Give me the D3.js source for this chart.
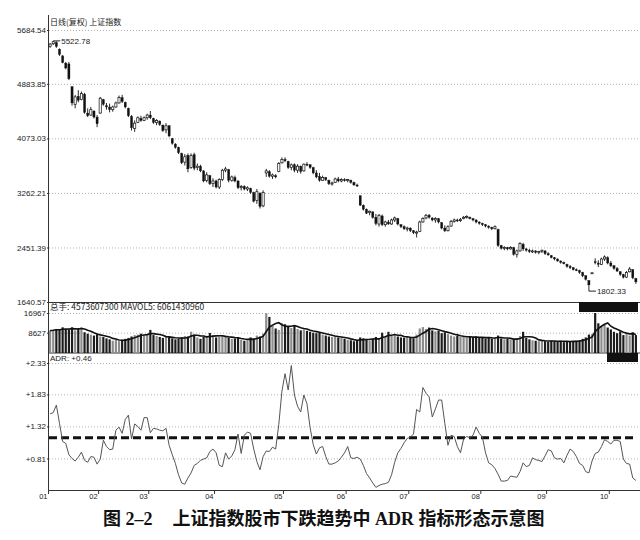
<!DOCTYPE html>
<html><head><meta charset="utf-8">
<script src="https://cdn.jsdelivr.net/npm/d3@7"></script>
<style>body{margin:0;background:#fff}svg{display:block}</style>
</head><body>
<svg id="c" width="640" height="540"></svg>
<script>
// ---------- data ----------
const monthLabels = ["01","02","03","04","05","06","07","08","09","10"];
const monthDays   = [16,16,21,22,20,20,23,21,20,9];
const priceTicks  = [5684.54, 4883.85, 4073.03, 3262.21, 2451.39, 1640.57];
const volTicks    = [16967, 8627];
const adrTicks    = [2.33, 1.83, 1.32, 0.81];
const adrSignal   = 1.14;
const titleText   = "日线(复权)  上证指数";
const volText     = "总手: 4573607300  MAVOL5: 6061430960";
const adrText     = "ADR: +0.46";
const highNote    = "5522.78";
const lowNote     = "1802.33";
const captionParts = ["图", " 2–2", "上证指数股市下跌趋势中", " ADR ", "指标形态示意图"];

const openP = [5440,5480,5500,5400,5300,5190,5180,4840,4580,4700,
4650,4730,4450,4420,4480,4390,4450,4650,4560,4540,
4500,4540,4600,4680,4610,4520,4400,4220,4310,4370,
4340,4380,4420,4370,4310,4330,4270,4200,4260,4070,
3990,3940,3850,3720,3820,3640,3830,3640,3660,3590,
3450,3520,3400,3440,3350,3460,3600,3610,3450,3490,
3440,3340,3360,3320,3330,3270,3150,3260,3070,3560,
3580,3510,3520,3580,3710,3760,3730,3640,3680,3600,
3660,3590,3690,3680,3640,3560,3510,3450,3490,3450,
3400,3420,3470,3440,3460,3450,3450,3420,3380,3220,
3080,3020,2970,2980,2900,2800,2920,2790,2830,2800,
2860,2880,2790,2760,2730,2740,2700,2670,2690,2830,
2890,2930,2890,2860,2880,2820,2740,2700,2770,2840,
2860,2850,2880,2900,2900,2880,2860,2830,2810,2790,
2770,2750,2730,2720,2480,2440,2450,2430,2450,2350,
2400,2500,2430,2410,2390,2400,2380,2390,2400,2360,
2330,2300,2280,2250,2230,2200,2170,2150,2120,2110,
2080,2030,1960,2075,2240,2220,2200,2280,2300,2220,
2180,2140,2090,2050,2010,2090,2120,1990];
const highP = [5490,5522.78,5515,5410,5310,5210,5210,4850,4720,4790,
4770,4750,4520,4540,4490,4420,4690,4660,4600,4590,
4560,4620,4710,4720,4620,4530,4420,4340,4400,4410,
4400,4440,4480,4380,4360,4340,4280,4300,4270,4080,
4000,3950,3860,3840,3850,3850,3860,3700,3680,3600,
3570,3530,3480,3460,3480,3620,3650,3620,3520,3520,
3450,3380,3375,3360,3340,3280,3320,3270,3300,3620,
3600,3550,3540,3720,3790,3790,3740,3700,3700,3690,
3670,3700,3720,3690,3650,3600,3560,3520,3500,3460,
3430,3490,3500,3480,3480,3470,3460,3430,3400,3225,
3090,3030,3000,2990,2950,2950,2940,2850,2860,2880,
2910,2890,2800,2780,2760,2750,2710,2700,2850,2900,
2950,2950,2900,2900,2890,2830,2780,2780,2860,2880,
2880,2890,2920,2930,2910,2890,2870,2840,2820,2800,
2780,2760,2780,2730,2490,2470,2460,2470,2460,2420,
2530,2520,2440,2430,2420,2410,2400,2420,2410,2380,
2340,2310,2290,2260,2240,2210,2190,2160,2140,2120,
2090,2040,1965,2078,2290,2260,2300,2333,2320,2250,
2190,2160,2100,2060,2100,2160,2130,2000];
const lowP = [5420,5460,5420,5300,5190,5100,4940,4560,4520,4610,
4640,4440,4390,4410,4370,4240,4440,4560,4500,4460,
4470,4530,4590,4600,4520,4390,4190,4170,4300,4320,
4330,4350,4360,4290,4270,4260,4170,4150,4090,3980,
3920,3840,3690,3670,3570,3620,3600,3600,3570,3420,
3420,3380,3350,3330,3320,3440,3570,3420,3430,3420,
3320,3300,3300,3290,3250,3120,3100,3030,3050,3500,
3490,3470,3480,3570,3700,3720,3620,3600,3570,3560,
3550,3580,3660,3620,3540,3480,3430,3440,3440,3380,
3370,3410,3420,3420,3430,3420,3400,3370,3350,3070,
3000,2950,2930,2880,2780,2760,2770,2760,2790,2790,
2830,2780,2740,2710,2690,2680,2650,2600,2680,2820,
2870,2880,2840,2820,2810,2720,2680,2690,2760,2820,
2830,2830,2870,2880,2870,2840,2810,2790,2770,2750,
2730,2710,2720,2460,2420,2410,2410,2420,2330,2300,
2390,2400,2390,2370,2370,2360,2350,2370,2340,2330,
2290,2260,2240,2210,2200,2150,2130,2110,2100,2060,
2010,1960,1802.33,2072,2200,2160,2190,2250,2200,2160,
2120,2090,2030,1990,2000,2080,1980,1910];
const closeP = [5475,5510,5440,5320,5200,5120,4960,4600,4690,4640,
4740,4460,4410,4500,4390,4290,4670,4580,4540,4500,
4540,4600,4680,4620,4540,4410,4230,4300,4380,4340,
4380,4420,4380,4310,4340,4280,4190,4260,4110,4000,
3940,3860,3710,3800,3620,3820,3630,3660,3590,3440,
3530,3400,3440,3350,3460,3600,3620,3450,3500,3440,
3340,3360,3320,3340,3270,3140,3280,3060,3270,3590,
3510,3530,3500,3700,3760,3740,3640,3680,3600,3660,
3580,3690,3680,3640,3560,3500,3450,3490,3460,3400,
3410,3470,3440,3460,3450,3460,3420,3380,3370,3080,
3020,2960,2990,2900,2810,2930,2790,2830,2800,2860,
2890,2800,2760,2730,2740,2700,2670,2680,2830,2880,
2930,2900,2860,2880,2830,2740,2700,2760,2840,2860,
2850,2870,2900,2910,2880,2860,2830,2810,2790,2770,
2750,2730,2760,2480,2440,2450,2430,2450,2350,2400,
2510,2430,2410,2390,2400,2380,2390,2410,2360,2340,
2300,2280,2250,2230,2210,2170,2150,2120,2110,2080,
2030,1980,1895,2075,2230,2200,2280,2310,2220,2180,
2140,2100,2050,2010,2080,2130,2000,1940];
const volume = [9500,9800,10200,10000,10900,9800,10000,10900,9600,10600,
10900,8800,8200,7800,7400,8000,7000,6800,6200,5800,
5200,5500,5000,5600,6000,6400,7000,7600,7800,8200,
7400,8000,9800,7600,7200,6800,6400,6800,7000,6200,
5800,6000,6600,7200,7000,9000,7800,6600,6000,6800,
7000,8500,7400,6600,7000,7200,7000,6400,6000,6200,
6600,5600,5200,5400,6600,6200,7400,7000,8200,16900,
15300,11800,10400,9800,12600,12200,11400,10600,11600,10200,
9600,10000,9400,9000,8600,8400,8800,7800,7400,7000,
6800,7200,6600,6400,6000,5600,5400,5000,5200,6600,
6200,5600,5400,6000,6800,6200,8600,6800,9000,7200,
7600,7000,6600,6400,6800,6600,6200,7800,10400,11000,
10200,10800,9600,9200,9400,8400,8800,8000,7400,7000,
7200,6800,7000,6600,6800,6400,7000,6600,6400,6200,
6800,6000,6400,7400,6200,5800,6000,5600,5800,6200,
7200,9000,6400,5800,5400,5200,5000,5400,5000,4800,
5200,5000,4800,5200,4600,5000,4800,5000,5200,5400,
6000,6600,7800,8000,16967,12600,11400,12000,10800,10000,
9000,8400,9200,7600,8000,7400,8800,7600];
const adr = [1.52,1.54,1.66,1.37,1.08,1.05,0.87,0.81,0.77,0.83,
0.91,0.78,0.75,0.84,0.83,0.72,0.80,1.10,1.00,0.95,
0.96,1.26,1.31,1.21,1.43,1.50,1.12,1.36,1.32,1.26,
1.46,1.46,1.22,1.29,1.28,1.26,1.25,1.29,1.02,0.87,
0.73,0.55,0.42,0.40,0.50,0.58,0.70,0.73,0.78,0.80,
0.82,0.92,0.96,0.90,0.70,0.68,0.90,0.80,0.85,0.95,
1.20,0.89,1.18,1.23,1.21,0.96,0.76,0.63,0.84,0.93,
0.92,0.99,0.96,1.35,1.88,2.16,1.90,2.29,1.82,1.64,
1.55,1.82,1.68,1.30,1.03,0.88,0.98,1.00,0.84,0.72,
0.72,0.74,0.77,0.83,0.90,1.00,0.82,0.81,0.83,0.80,
0.70,0.57,0.50,0.42,0.35,0.38,0.40,0.41,0.43,0.55,
0.75,0.90,0.97,1.06,1.13,1.15,1.20,1.59,1.55,1.94,
1.85,1.79,1.47,1.60,1.74,1.74,1.37,1.02,1.18,1.16,
1.00,0.90,1.12,1.16,1.14,1.18,1.31,1.21,1.15,0.90,
0.74,0.71,0.65,0.56,0.45,0.45,0.46,0.53,0.52,0.51,
0.60,0.74,0.68,0.70,0.82,0.79,0.78,0.76,0.85,0.95,
0.93,0.82,0.80,0.81,0.74,0.86,0.96,0.92,0.84,0.73,
0.70,0.60,0.58,0.77,0.89,0.91,1.00,1.11,1.08,1.04,
1.10,1.10,1.08,0.80,0.73,0.72,0.50,0.46];

// ---------- scales ----------
const svg = d3.select("#c");
const N = d3.sum(monthDays);
const days = d3.range(N);
const L = 49, R = 637;
const x = d3.scaleBand().domain(days).range([L, R]).paddingInner(0.3);
const cx = i => x(i) + x.bandwidth() / 2;
const yP = d3.scaleLinear().domain([1640.57, 5684.54]).range([302, 30]);
const yV = d3.scaleLinear().domain([0, 16967]).range([353, 313]);
const yA = d3.scaleLinear().domain([0.30, 2.33]).range([490.5, 363]);
const FONT = "'Liberation Sans', Arial, sans-serif";
const CJK = "'Noto Sans CJK SC', 'Noto Sans', sans-serif";

svg.append("rect").attr("width", 640).attr("height", 540).attr("fill", "#fff");

// ---------- gridlines ----------
function grid(scale, ticks) {
  const g = svg.append("g").attr("transform", `translate(${L},0)`)
    .call(d3.axisRight(scale).tickValues(ticks).tickSize(R - L + 2).tickFormat(""));
  g.select(".domain").remove();
  g.selectAll("line").attr("stroke", "#a0a0a0").attr("stroke-width", 0.8).attr("stroke-dasharray", "1,2");
}
grid(yP, priceTicks);
grid(yV, volTicks);
grid(yA, adrTicks);

// ---------- y labels ----------
function labels(scale, ticks, fmt) {
  const g = svg.append("g").attr("transform", `translate(48.5,0)`)
    .call(d3.axisLeft(scale).tickValues(ticks).tickSize(1.5).tickPadding(1).tickFormat(fmt));
  g.select(".domain").remove();
  g.selectAll("line").attr("stroke", "#333");
  g.selectAll("text").attr("font-family", FONT).attr("font-size", 8).attr("fill", "#222");
}
labels(yP, priceTicks, d => d.toFixed(2));
labels(yV, volTicks, d => String(d));
labels(yA, adrTicks, d => "+" + d.toFixed(2));

// ---------- frame ----------
svg.append("line").attr("x1", 48.5).attr("x2", 48.5).attr("y1", 15).attr("y2", 490.5).attr("stroke", "#333").attr("stroke-width", 1);
svg.append("line").attr("x1", 48.5).attr("x2", 640).attr("y1", 302.5).attr("y2", 302.5).attr("stroke", "#333").attr("stroke-width", 1.2);
svg.append("line").attr("x1", 48.5).attr("x2", 640).attr("y1", 353).attr("y2", 353).attr("stroke", "#333").attr("stroke-width", 1);
svg.append("line").attr("x1", 48.5).attr("x2", 640).attr("y1", 490.5).attr("y2", 490.5).attr("stroke", "#333").attr("stroke-width", 1);

// ---------- candles ----------
const cg = svg.append("g");
days.forEach(i => {
  const up = closeP[i] >= openP[i];
  cg.append("line").attr("x1", cx(i)).attr("x2", cx(i))
    .attr("y1", yP(highP[i])).attr("y2", yP(lowP[i]))
    .attr("stroke", "#111").attr("stroke-width", 0.9);
  const top = yP(Math.max(openP[i], closeP[i]));
  const h = Math.max(1, yP(Math.min(openP[i], closeP[i])) - top);
  cg.append("rect").attr("x", x(i)).attr("y", top).attr("width", x.bandwidth()).attr("height", h)
    .attr("fill", up ? "#fff" : "#111").attr("stroke", "#111").attr("stroke-width", up ? 0.7 : 0.3);
});

// ---------- notes ----------
const hiI = highP.indexOf(d3.max(highP));
const loI = lowP.indexOf(d3.min(lowP));
svg.append("line").attr("x1", cx(hiI)).attr("x2", cx(hiI) + 7).attr("y1", yP(highP[hiI])).attr("y2", yP(highP[hiI])).attr("stroke", "#222");
svg.append("text").attr("x", cx(hiI) + 8).attr("y", yP(highP[hiI]) + 3).text(highNote)
  .attr("font-family", FONT).attr("font-size", 8).attr("fill", "#222");
svg.append("line").attr("x1", cx(loI)).attr("x2", cx(loI) + 7).attr("y1", yP(lowP[loI])).attr("y2", yP(lowP[loI])).attr("stroke", "#222");
svg.append("text").attr("x", cx(loI) + 8).attr("y", yP(lowP[loI]) + 3).text(lowNote)
  .attr("font-family", FONT).attr("font-size", 8).attr("fill", "#222");

svg.append("text").attr("x", 50).attr("y", 25).text(titleText)
  .attr("font-family", CJK).attr("font-size", 8).attr("fill", "#222");

// ---------- volume ----------
const vg = svg.append("g");
days.forEach(i => {
  const up = closeP[i] >= openP[i];
  vg.append("rect").attr("x", x(i)).attr("y", yV(volume[i])).attr("width", x.bandwidth())
    .attr("height", yV(0) - yV(volume[i])).attr("fill", up ? "#8c8c8c" : "#1c1c1c");
});
const mavol = days.map(i => d3.mean(volume.slice(Math.max(0, i - 4), i + 1)));
svg.append("path").datum(days)
  .attr("d", d3.line().x(i => cx(i)).y(i => yV(mavol[i])))
  .attr("fill", "none").attr("stroke", "#111").attr("stroke-width", 1.6);
svg.append("text").attr("x", 50).attr("y", 310).text(volText)
  .attr("font-family", CJK).attr("font-size", 8.5).attr("fill", "#222");
svg.append("rect").attr("x", 579).attr("y", 302).attr("width", 59).attr("height", 10).attr("fill", "#111");
svg.append("rect").attr("x", 607).attr("y", 353).attr("width", 31).attr("height", 9).attr("fill", "#111");

// ---------- ADR ----------
svg.append("text").attr("x", 50).attr("y", 361).text(adrText)
  .attr("font-family", FONT).attr("font-size", 8).attr("fill", "#222");
svg.append("line").attr("x1", L).attr("x2", R).attr("y1", yA(adrSignal)).attr("y2", yA(adrSignal))
  .attr("stroke", "#111").attr("stroke-width", 3).attr("stroke-dasharray", "8,4");
svg.append("path").datum(days)
  .attr("d", d3.line().x(i => cx(i)).y(i => yA(adr[i])))
  .attr("fill", "none").attr("stroke", "#555").attr("stroke-width", 1);

// ---------- month axis ----------
let start = 0;
const mg = svg.append("g");
monthLabels.forEach((m, k) => {
  const tx = x(start) - (x.step() - x.bandwidth()) / 2;
  mg.append("line").attr("x1", tx).attr("x2", tx).attr("y1", 490.5).attr("y2", 494).attr("stroke", "#333");
  mg.append("text").attr("x", tx - 1).attr("y", 499).attr("text-anchor", "end").text(m)
    .attr("font-family", FONT).attr("font-size", 7.5).attr("fill", "#222");
  start += monthDays[k];
});

// ---------- caption ----------
const cap = svg.append("text").attr("x", 103).attr("y", 525).attr("font-weight", "bold").attr("font-size", 18).attr("fill", "#111");
const capFonts = [CJK, "'Liberation Serif', serif", CJK, "'Liberation Serif', serif", CJK];
const capDx = [0, 0, 20, 0, 0];
captionParts.forEach((t, k) => {
  cap.append("tspan").attr("font-family", capFonts[k]).attr("dx", capDx[k]).text(t);
});
</script>
</body></html>
